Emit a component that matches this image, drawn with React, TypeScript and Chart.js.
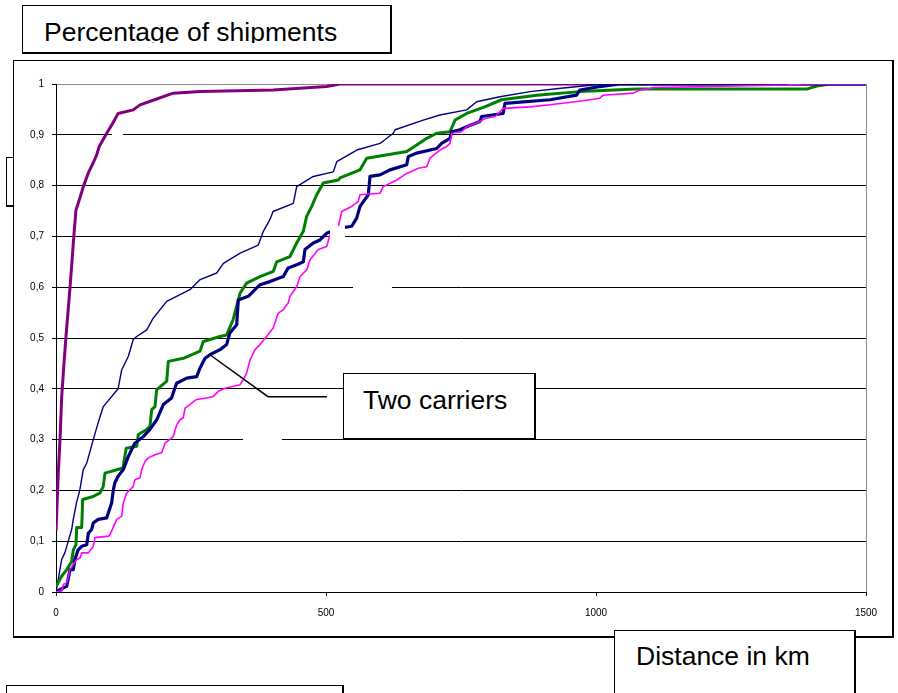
import React, { useEffect, useRef } from 'react';
import { Chart, registerables } from 'chart.js';
Chart.register(...registerables);

const FONT = 'Arial, "Liberation Sans", sans-serif';

const xTickValues = [0, 500, 1000, 1500];
const yTickLabels = ['0', '0,1', '0,2', '0,3', '0,4', '0,5', '0,6', '0,7', '0,8', '0,9', '1'];

// Purple (thick)
const purpleKm = [0, 4.3, 7.4, 10.6, 14.8, 18.5, 26, 33, 37, 44.4, 50.6, 59.8, 69, 75.2, 80, 93.9, 103, 115, 143, 155.6, 180, 217, 267, 402, 501, 526, 1500];
const purpleVal = [0.12, 0.235, 0.30, 0.385, 0.45, 0.503, 0.60, 0.70, 0.752, 0.776, 0.798, 0.825, 0.845, 0.86, 0.877, 0.903, 0.919, 0.942, 0.949, 0.959, 0.968, 0.982, 0.985, 0.988, 0.995, 1.0, 1.0];

// Thin navy
const thinNavyKm = [0, 5, 10.5, 16.7, 29, 32, 38, 44, 50.5, 57, 69, 78, 87.6, 115, 121.6, 134, 143, 149.5, 168, 180, 205, 248, 267, 297.6, 310, 341, 374.6, 384, 396, 402, 439.5, 445.7, 476.5, 513.5, 520, 557, 600, 624.6, 628, 680, 711, 760.6, 779, 822, 878, 939.5, 994.5, 1010, 1500];
const thinNavyVal = [0, 0.03, 0.064, 0.078, 0.123, 0.143, 0.176, 0.2, 0.241, 0.254, 0.30, 0.333, 0.365, 0.40, 0.437, 0.464, 0.497, 0.503, 0.516, 0.539, 0.572, 0.595, 0.615, 0.628, 0.647, 0.667, 0.683, 0.71, 0.733, 0.749, 0.765, 0.798, 0.818, 0.827, 0.847, 0.87, 0.883, 0.903, 0.91, 0.929, 0.939, 0.949, 0.965, 0.975, 0.985, 0.992, 0.998, 1.0, 1.0];

// Green (thick)
const greenKm = [0, 10.5, 19.8, 29, 32, 37, 38.3, 47.6, 49.4, 69, 81.5, 87.6, 90.7, 124, 130, 149.5, 152.4, 168, 174, 177.2, 183.3, 186.4, 205, 208, 235.7, 266.7, 272.8, 303.7, 316, 328, 337.6, 340.7, 353, 377.8, 402.4, 408.7, 433, 445.7, 458, 464, 473.5, 482.8, 495, 522.8, 526, 563, 575.4, 649.5, 668, 686.5, 705, 729.6, 739, 760.5, 794, 825, 890, 970, 1075, 1390, 1409, 1433, 1500];
const greenVal = [0.011, 0.031, 0.044, 0.06, 0.083, 0.093, 0.127, 0.127, 0.182, 0.188, 0.195, 0.208, 0.234, 0.244, 0.283, 0.287, 0.31, 0.32, 0.326, 0.359, 0.365, 0.398, 0.415, 0.454, 0.46, 0.474, 0.493, 0.503, 0.506, 0.536, 0.575, 0.588, 0.608, 0.621, 0.631, 0.65, 0.66, 0.687, 0.71, 0.739, 0.759, 0.782, 0.805, 0.811, 0.815, 0.831, 0.854, 0.867, 0.88, 0.893, 0.903, 0.906, 0.929, 0.942, 0.955, 0.969, 0.978, 0.985, 0.99, 0.99, 0.996, 1.0, 1.0];

// Thick navy
const navyKm = [0, 7.4, 19.8, 25.9, 32, 35, 41, 47.6, 56.9, 60, 66, 69, 78.3, 93.9, 97, 103, 106, 109, 115, 124.6, 134, 146, 161.7, 174, 186.5, 198.7, 214, 220, 223.5, 242, 260.5, 266.7, 276, 285, 303.7, 316, 322, 334.6, 337.6, 356, 377.8, 396, 421, 430, 445.7, 458, 461, 476.5, 489, 501, 526, 547.6, 556.8, 563, 578.3, 581.5, 600, 618.5, 649.5, 652.4, 668, 705, 714, 729.6, 732.8, 748, 760.5, 785, 788.3, 828, 831.5, 915, 964, 970, 1007, 1044, 1500];
const navyVal = [0, 0.005, 0.011, 0.044, 0.044, 0.064, 0.083, 0.09, 0.093, 0.116, 0.123, 0.136, 0.143, 0.146, 0.156, 0.175, 0.2, 0.215, 0.228, 0.241, 0.267, 0.293, 0.306, 0.32, 0.339, 0.369, 0.382, 0.401, 0.411, 0.421, 0.424, 0.441, 0.46, 0.467, 0.477, 0.487, 0.51, 0.526, 0.575, 0.582, 0.605, 0.611, 0.621, 0.638, 0.644, 0.65, 0.674, 0.687, 0.693, 0.706, 0.716, 0.72, 0.736, 0.759, 0.782, 0.818, 0.821, 0.831, 0.841, 0.857, 0.864, 0.873, 0.883, 0.893, 0.906, 0.91, 0.916, 0.926, 0.936, 0.942, 0.962, 0.969, 0.978, 0.988, 0.995, 1.0, 1.0];

// Magenta (thin)
const magentaKm = [0, 10.6, 13.7, 19.8, 25.9, 38.3, 44.4, 47.6, 59.8, 69, 72.2, 96.9, 100, 112.4, 121.6, 124.6, 130.9, 143, 146.3, 155.6, 159, 164.8, 171, 183.3, 195.7, 201.9, 217.2, 223.5, 229.6, 235.7, 238.9, 260.5, 279, 291.3, 300.6, 313, 340.7, 346.9, 353, 359.3, 368.5, 377.8, 390, 402.4, 411.7, 421, 430, 433.3, 445.7, 451.9, 464.3, 470.4, 485.7, 501.3, 507.4, 522.8, 529, 547.6, 559.8, 563, 600, 606, 631, 649.5, 671, 686.5, 692.6, 711, 723.5, 729.6, 732.8, 751.3, 760.5, 785, 794.4, 813, 828.3, 877.8, 915, 976.5, 1007, 1013.5, 1069, 1081.5, 1100, 1106, 1210, 1353, 1380, 1500];
const magentaVal = [0, 0.002, 0.015, 0.018, 0.044, 0.064, 0.067, 0.077, 0.077, 0.09, 0.107, 0.11, 0.113, 0.143, 0.149, 0.175, 0.195, 0.208, 0.221, 0.225, 0.242, 0.257, 0.264, 0.27, 0.274, 0.293, 0.306, 0.329, 0.339, 0.343, 0.362, 0.379, 0.382, 0.385, 0.395, 0.401, 0.408, 0.418, 0.431, 0.457, 0.477, 0.487, 0.503, 0.52, 0.549, 0.556, 0.569, 0.582, 0.601, 0.621, 0.634, 0.654, 0.674, 0.68, 0.703, 0.719, 0.749, 0.759, 0.769, 0.782, 0.785, 0.798, 0.811, 0.824, 0.834, 0.837, 0.854, 0.87, 0.877, 0.883, 0.903, 0.906, 0.916, 0.926, 0.932, 0.936, 0.952, 0.955, 0.959, 0.967, 0.972, 0.978, 0.982, 0.988, 0.991, 0.993, 0.995, 0.998, 1.0, 1.0];

// Leader line of the "Two carriers" callout, in data units (km, share)
const leaderKm = [285, 392.6, 502];
const leaderVal = [0.467, 0.3845, 0.3845];

// White covering patches seen in the original (km0, km1, v0, v1)
const whitePatches = [
  [103.7, 124.1, 0.896, 0.904],
  [507.4, 535.2, 0.697, 0.7208],
  [550, 622.2, 0.596, 0.604],
  [346.3, 418.5, 0.296, 0.304],
];

const toPoints = (xs: number[], ys: number[]) => xs.map((x, i) => ({ x, y: ys[i] }));

const decorPlugin = {
  id: 'decor',
  afterDatasetsDraw(chart: any) {
    const { ctx, scales } = chart;
    const xs = scales.x;
    const ys = scales.y;
    ctx.save();
    ctx.fillStyle = '#ffffff';
    for (const p of whitePatches) {
      const x0 = xs.getPixelForValue(p[0]);
      const x1 = xs.getPixelForValue(p[1]);
      const y0 = ys.getPixelForValue(p[3]);
      const y1 = ys.getPixelForValue(p[2]);
      ctx.fillRect(x0, y0, x1 - x0, y1 - y0);
    }
    ctx.strokeStyle = '#000';
    ctx.lineWidth = 1.5;
    ctx.beginPath();
    leaderKm.forEach((k, i) => {
      const px = xs.getPixelForValue(k);
      const py = ys.getPixelForValue(leaderVal[i]);
      if (i === 0) ctx.moveTo(px, py);
      else ctx.lineTo(px, py);
    });
    ctx.stroke();
    ctx.restore();
  },
};

const boxStyle = (left: number, top: number, width: number, height: number): React.CSSProperties => ({
  position: 'absolute',
  left,
  top,
  width,
  height,
  boxSizing: 'border-box',
  borderTop: '1px solid #000',
  borderLeft: '1px solid #000',
  borderRight: '2px solid #000',
  borderBottom: '2px solid #000',
  background: '#fff',
});

const textStyle = (left: number, top: number): React.CSSProperties => ({
  position: 'absolute',
  left,
  top,
  fontFamily: FONT,
  fontSize: 26.5,
  lineHeight: '30px',
  whiteSpace: 'nowrap',
  color: '#000',
});

export default function App() {
  const canvasRef = useRef<HTMLCanvasElement | null>(null);

  useEffect(() => {
    if (!canvasRef.current) return;
    const chart = new Chart(canvasRef.current, {
      type: 'line',
      data: {
        datasets: [
          { label: 'Magenta', data: toPoints(magentaKm, magentaVal), borderColor: '#ff00ff', borderWidth: 1.6 },
          { label: 'Navy thick', data: toPoints(navyKm, navyVal), borderColor: '#000080', borderWidth: 3.2 },
          { label: 'Green', data: toPoints(greenKm, greenVal), borderColor: '#008000', borderWidth: 3 },
          { label: 'Navy thin', data: toPoints(thinNavyKm, thinNavyVal), borderColor: '#000080', borderWidth: 1.4 },
          { label: 'Purple', data: toPoints(purpleKm, purpleVal), borderColor: '#800080', borderWidth: 3 },
        ].map((d) => ({ ...d, pointRadius: 0, fill: false, tension: 0, borderJoinStyle: 'round' as const })),
      },
      options: {
        responsive: false,
        maintainAspectRatio: false,
        animation: false,
        devicePixelRatio: 1,
        events: [],
        layout: { padding: { left: 0, top: 84, right: 32, bottom: 71 } },
        plugins: { legend: { display: false }, tooltip: { enabled: false }, title: { display: false } },
        scales: {
          x: {
            type: 'linear',
            min: 0,
            max: 1500,
            afterFit: (s: any) => { s.height = 30; },
            afterBuildTicks: (s: any) => { s.ticks = xTickValues.map((v) => ({ value: v })); },
            ticks: {
              color: '#000',
              padding: 11,
              maxRotation: 0,
              font: { family: FONT, size: 10 },
              callback: (v: any) => String(v),
            },
            grid: {
              drawOnChartArea: true,
              color: (c: any) => (c.tick && c.tick.value === 1500 ? '#8c8c8c' : 'rgba(0,0,0,0)'),
              tickColor: '#000',
              tickLength: 4,
              lineWidth: 1,
            },
            border: { display: true, color: '#000', width: 1 },
          },
          y: {
            type: 'linear',
            min: 0,
            max: 1,
            afterFit: (s: any) => { s.width = 56; },
            ticks: {
              stepSize: 0.1,
              color: '#000',
              padding: 8,
              font: { family: FONT, size: 10 },
              callback: (v: any) => yTickLabels[Math.round(Number(v) * 10)],
            },
            grid: {
              color: (c: any) => (c.tick && Math.round(c.tick.value * 10) === 10 ? '#8c8c8c' : '#000'),
              tickColor: '#000',
              tickLength: 4,
              lineWidth: 1,
            },
            border: { display: true, color: '#000', width: 1 },
          },
        },
      },
      plugins: [decorPlugin],
    });
    return () => chart.destroy();
  }, []);

  return (
    <div style={{ position: 'absolute', left: 0, top: 0, width: 898, height: 693, overflow: 'hidden', background: '#fff' }}>
      <div style={boxStyle(6, 157, 30, 50)} />
      <div style={boxStyle(13, 60, 881, 578)} />
      <canvas ref={canvasRef} width={898} height={693} style={{ position: 'absolute', left: 0, top: 0, width: 898, height: 693 }} />
      <div style={boxStyle(343, 373, 193, 67)} />
      <div style={textStyle(363, 385)}>Two carriers</div>
      <div style={boxStyle(22, 5, 370, 49)} />
      <div style={{ position: 'absolute', left: 44, top: 17, width: 340, height: 25.5, overflow: 'hidden' }}>
        <div style={textStyle(0, 0)}>Percentage of shipments</div>
      </div>
      <div style={boxStyle(614, 630, 242, 80)} />
      <div style={textStyle(636, 641)}>Distance in km</div>
      <div style={boxStyle(6, 685, 338, 30)} />
    </div>
  );
}
